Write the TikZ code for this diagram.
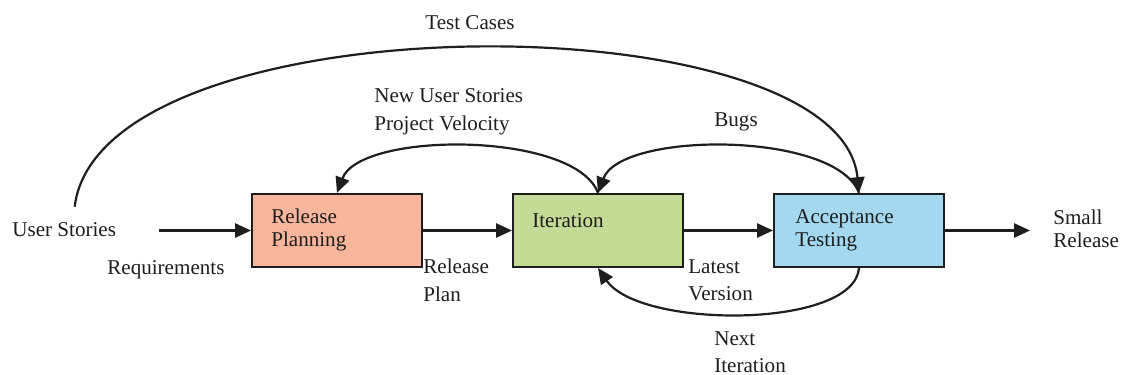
\documentclass[tikz,border=0pt]{standalone}
\usepackage{fontspec}
\setmainfont{Liberation Serif}
\usetikzlibrary{arrows.meta,calc}
\definecolor{planfill}{RGB}{247,181,155}
\definecolor{iterfill}{RGB}{196,219,150}
\definecolor{testfill}{RGB}{163,216,240}
\definecolor{ink}{RGB}{30,30,30}

\begin{document}
\begin{tikzpicture}[x=0.02cm,y=-0.02cm,
  every node/.style={font=\rmfamily\fontsize{12}{13}\selectfont, text=ink, inner sep=0pt},
  stagebox/.style={draw=ink, line width=1.2pt, minimum width=3.4cm, minimum height=1.46cm},
  flow/.style={draw=ink, line width=1.25pt, -{Triangle[length=9pt,width=8pt]}},
  tag/.style={anchor=base west},
  wide/.style={align=left, anchor=north west, font=\rmfamily\fontsize{12}{15.8}\selectfont},
  tight/.style={align=left, anchor=north west, font=\rmfamily\fontsize{12}{13}\selectfont}
]
% canvas
\fill[white] (0,0) rectangle (1125,375);
\useasboundingbox (0,0) rectangle (1125,375);

% process stages
\node[stagebox, fill=planfill] (rp) at (337,230.5) {};
\node[stagebox, fill=iterfill] (it) at (598,230.5) {};
\node[stagebox, fill=testfill] (ac) at (859,230.5) {};
\node[tight] (rpt) at (271,209) {Release\\Planning};
\node[tag]   (itt) at (532,227) {Iteration};
\node[tight] (act) at (795,209) {Acceptance\\Testing};

% free labels
\node[tag]   (us)     at (12,236)   {User Stories};
\node[tag]   (req)    at (107,274)  {Requirements};
\node[wide]  (rplan)  at (423,259)  {Release\\Plan};
\node[wide]  (latest) at (688,259)  {Latest\\Version};
\node[wide]  (next)   at (714,331)  {Next\\Iteration};
\node[tight] (sr)     at (1053,210) {Small\\Release};
\node[tag]   (tc)     at (425,30)   {Test Cases};
\node[wide]  (nus)    at (374,88)   {New User Stories\\Project Velocity};
\node[tag]   (bugs)   at (714,127)  {Bugs};

% main flow
\draw[flow] ($(us.east |- rp.west)+(43,0)$) -- (rp.west);
\draw[flow] (rp.east) -- (it.west);
\draw[flow] (it.east) -- (ac.west);
\draw[flow] (ac.east) -- ($(sr.west |- ac.east)+(-23,0)$);

% feedback loops
\coordinate (tcstart) at ($(us.north)+(10.5,-15)$);
\draw[flow] (tcstart) .. controls (100,-2) and (840,-2) .. (ac.north);
\draw[flow] (it.north) .. controls +(-23,-62) and +(23,-62) .. (rp.north);
\draw[flow] (ac.north) .. controls +(-23,-62) and +(23,-62) .. (it.north);
\draw[flow] (ac.south) .. controls +(-5,61) and +(42,61) .. (it.south);
\end{tikzpicture}
\end{document}
